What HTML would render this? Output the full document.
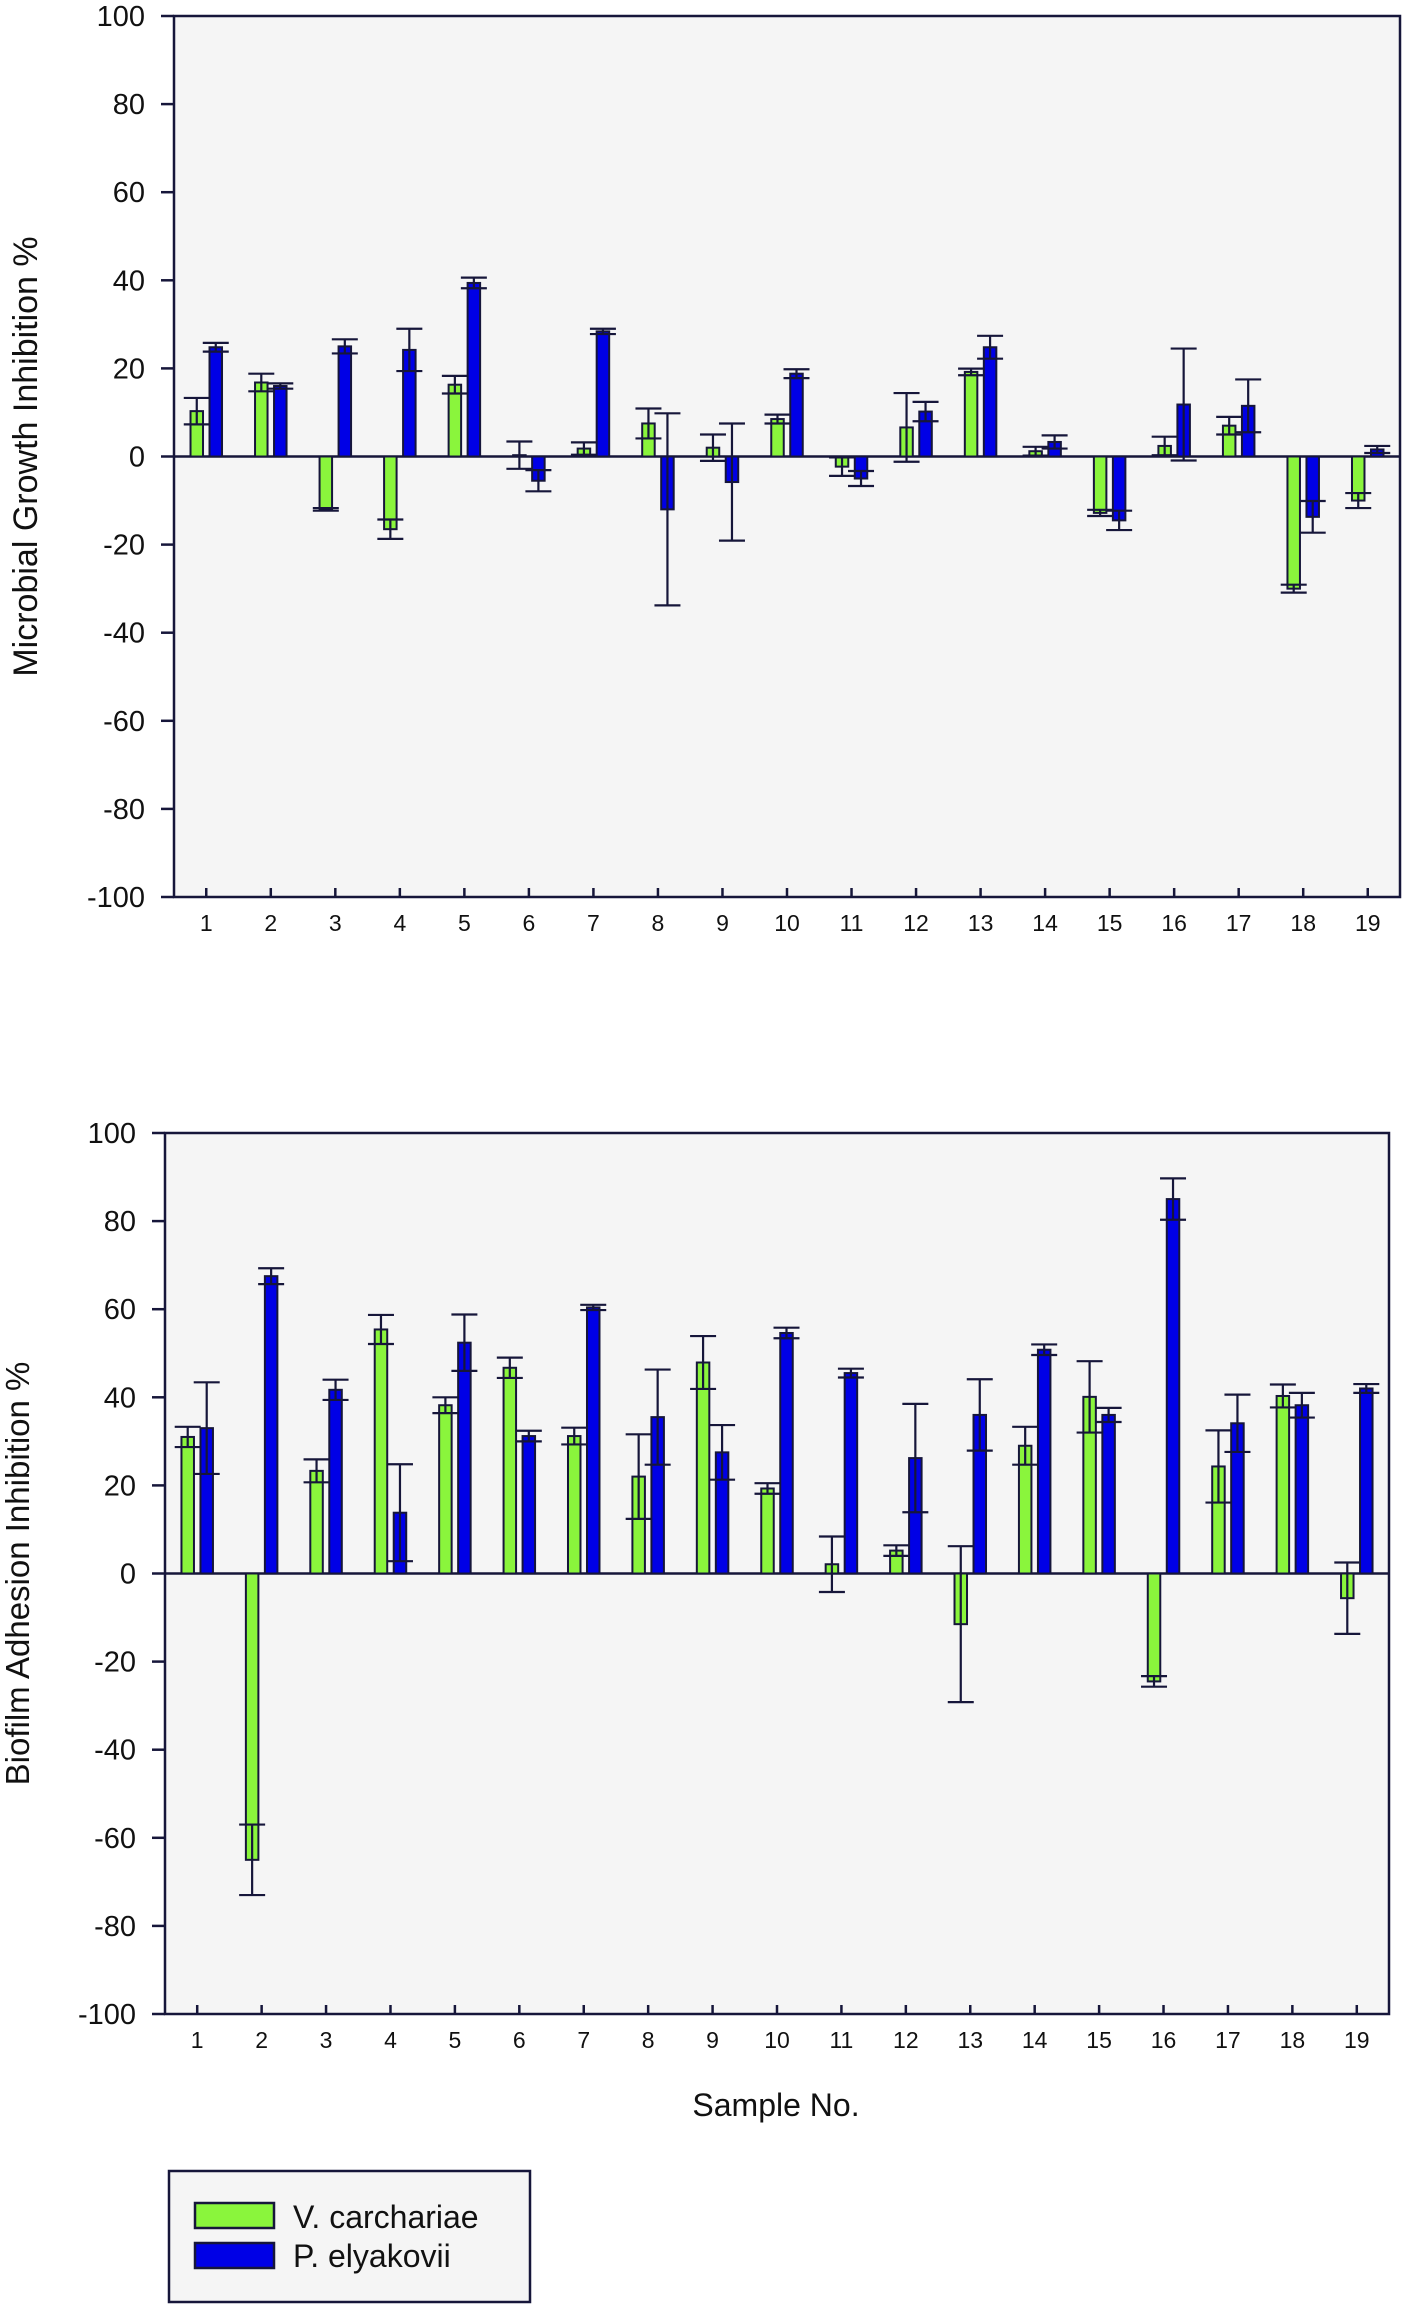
<!DOCTYPE html>
<html><head><meta charset="utf-8">
<style>
html,body{margin:0;padding:0;background:#fff;}
svg{display:block;font-family:"Liberation Sans",Arial,sans-serif;}
</style></head>
<body>
<svg id="chart" width="1404" height="2305" viewBox="0 0 1404 2305" xmlns="http://www.w3.org/2000/svg"></svg>
<script>
const categories = ["1","2","3","4","5","6","7","8","9","10","11","12","13","14","15","16","17","18","19"];
const yTicks = [100,80,60,40,20,0,-20,-40,-60,-80,-100];
// Top chart: Microbial growth inhibition
const growthV = [10.3,16.8,-12,-16.5,16.3,0.3,1.8,7.5,2,8.5,-2.3,6.6,19.2,1.2,-12.8,2.4,7,-30,-10];
const growthVErr = [3,2,0.3,2.2,2,3.1,1.4,3.4,3,1,2.1,7.8,0.75,1,0.7,2.1,2,0.9,1.7];
const growthP = [24.8,16,25,24.2,39.4,-5.5,28.4,-12,-5.8,18.8,-5,10.2,24.8,3.3,-14.5,11.8,11.5,-13.7,1.6];
const growthPErr = [1,0.6,1.6,4.8,1.2,2.4,0.6,21.8,13.3,1,1.7,2.2,2.6,1.5,2.2,12.7,6,3.6,0.8];
// Bottom chart: Biofilm adhesion inhibition
const biofilmV = [31,-65,23.3,55.4,38.2,46.7,31.2,22,47.9,19.3,2.1,5.2,-11.5,29,40.1,-24.5,24.3,40.3,-5.6];
const biofilmVErr = [2.3,8,2.6,3.3,1.8,2.3,1.9,9.6,6,1.2,6.3,1.2,17.7,4.3,8.1,1.2,8.2,2.6,8.1];
const biofilmP = [33,67.5,41.7,13.8,52.4,31.2,60.4,35.5,27.5,54.6,45.5,26.2,36,50.8,36,85,34.1,38.2,42];
const biofilmPErr = [10.4,1.8,2.3,11,6.4,1.2,0.6,10.8,6.2,1.2,1,12.3,8.1,1.2,1.6,4.7,6.5,2.8,1];

const NS="http://www.w3.org/2000/svg";
const svg=document.getElementById('chart');
const AX="#16163a", GREEN="#8af53c", BLUE="#0000e6";
function el(tag,attrs,parent){const e=document.createElementNS(NS,tag);for(const k in attrs)e.setAttribute(k,attrs[k]);(parent||svg).appendChild(e);return e;}

function drawChart(cfg){
  const g=el('g',{});
  
  
  const L=cfg.left,R=cfg.right,T=cfg.top,B=cfg.bottom;
  const y=v=>B-(v+100)/200*(B-T);
  const band=(R-L)/categories.length;
  const cx=i=>L+(i+0.5)*band;
  const bg=el('rect',{x:L,y:T,width:R-L,height:B-T,fill:"#f5f5f5",stroke:"none"},g);
  
  
  const z=el('line',{x1:L,x2:R,y1:y(0),y2:y(0),stroke:AX,'stroke-width':2.5},g);
  
  
  const series=[
    {vals:cfg.v,errs:cfg.ve,fill:GREEN,off:-9.5,name:'v-carchariae'},
    {vals:cfg.p,errs:cfg.pe,fill:BLUE,off:9.5,name:'p-elyakovii'}
  ];
  const bw=12.5;
  series.forEach(s=>{
    s.vals.forEach((v,i)=>{
      const c=cx(i)+s.off;
      const y0=y(0),y1=y(v);
      const r=el('rect',{x:c-bw/2,y:Math.min(y0,y1),width:bw,height:Math.max(1,Math.abs(y1-y0)),fill:s.fill,stroke:AX,'stroke-width':2},g);
      
      
      const e=s.errs[i];
      const eg=el('g',{stroke:AX,'stroke-width':2.2},g);
      
      
      el('line',{x1:c,x2:c,y1:y(v+e),y2:y(v-e)},eg);
      el('line',{x1:c-13,x2:c+13,y1:y(v+e),y2:y(v+e)},eg);
      el('line',{x1:c-13,x2:c+13,y1:y(v-e),y2:y(v-e)},eg);
    });
  });
  const fr=el('rect',{x:L,y:T,width:R-L,height:B-T,fill:"none",stroke:AX,'stroke-width':2.5},g);
  
  
  yTicks.forEach(t=>{
    el('line',{x1:L-13,x2:L,y1:y(t),y2:y(t),stroke:AX,'stroke-width':2.5},g);
    const tx=el('text',{x:L-29,y:y(t)+10,'text-anchor':'end','font-size':29,fill:"#111"},g);
    tx.textContent=t;
    
    
  });
  categories.forEach((c,i)=>{
    el('line',{x1:cx(i),x2:cx(i),y1:B,y2:B-9,stroke:AX,'stroke-width':2.5},g);
    const tx=el('text',{x:cx(i),y:B+34,'text-anchor':'middle','font-size':23,fill:"#111"},g);
    tx.textContent=c;
    
    
  });
  const yl=el('text',{x:0,y:0,'text-anchor':'middle','font-size':cfg.ylfs,fill:"#111",transform:`translate(${cfg.ylx},${(T+B)/2}) rotate(-90)`},g);
  yl.textContent=cfg.ylabel;
  
  
}

drawChart({name:'microbial-growth-chart',left:174,right:1400,top:16,bottom:897,
  v:growthV,ve:growthVErr,p:growthP,pe:growthPErr,ylabel:'Microbial Growth Inhibition %',ylx:37,ylfs:34});
drawChart({name:'biofilm-adhesion-chart',left:165,right:1389,top:1133,bottom:2014,
  v:biofilmV,ve:biofilmVErr,p:biofilmP,pe:biofilmPErr,ylabel:'Biofilm Adhesion Inhibition %',ylx:29,ylfs:33});

const xt=el('text',{x:776,y:2116,'text-anchor':'middle','font-size':32,fill:"#111"});
xt.textContent='Sample No.';



const lg=el('g',{});


el('rect',{x:169,y:2171,width:361,height:131,fill:"#f5f5f5",stroke:AX,'stroke-width':2.5},lg);
const e1=el('g',{},lg);


el('rect',{x:195,y:2203,width:79,height:25,fill:GREEN,stroke:AX,'stroke-width':2.5},e1);
const t1=el('text',{x:293,y:2228,'font-size':32,fill:"#111"},e1);t1.textContent='V. carchariae';
const e2=el('g',{},lg);


el('rect',{x:195,y:2243,width:79,height:25,fill:BLUE,stroke:AX,'stroke-width':2.5},e2);
const t2=el('text',{x:293,y:2267,'font-size':32,fill:"#111"},e2);t2.textContent='P. elyakovii';
</script>
</body></html>
